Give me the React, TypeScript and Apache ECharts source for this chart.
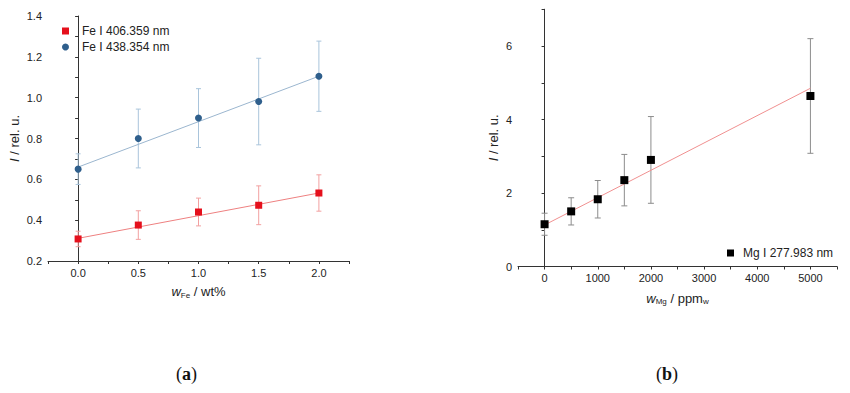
import React, { useEffect, useRef } from "react";
import * as echarts from "echarts";

// ---- data ----
const xFe = [0, 0.5, 1.0, 1.5, 2.0];
const fe406 = [0.308, 0.376, 0.44, 0.473, 0.533];
const fe406Err = [0.038, 0.07, 0.068, 0.095, 0.089];
const fe438 = [0.65, 0.8, 0.9, 0.981, 1.105];
const fe438Err = [0.075, 0.144, 0.144, 0.212, 0.172];
const fe406Fit = [[0, 0.311], [2.0, 0.533]];
const fe438Fit = [[0, 0.66], [2.0, 1.105]];

const xMg = [0, 500, 1000, 1500, 2000, 5000];
const mg = [1.15, 1.5, 1.83, 2.35, 2.9, 4.64];
const mgErr = [0.3, 0.37, 0.51, 0.7, 1.18, 1.56];
const mgFit = [[0, 1.13], [5000, 4.85]];

const feXTicks = [0, 0.5, 1.0, 1.5, 2.0];
const feYTicks = [0.2, 0.4, 0.6, 0.8, 1.0, 1.2, 1.4];
const mgXTicks = [0, 1000, 2000, 3000, 4000, 5000];
const mgYTicks = [0, 2, 4, 6];

const FONT = "Liberation Sans, Arial, sans-serif";
const SERIF = "Liberation Serif, DejaVu Serif, serif";

function errData(xs: number[], ys: number[], es: number[]) {
  return xs.map((x, i) => [x, ys[i] - es[i], ys[i] + es[i]]);
}

function errSeries(name: string, data: number[][], color: string, idx: number, cap: number) {
  return {
    type: "custom",
    name,
    xAxisIndex: idx,
    yAxisIndex: idx,
    z: 1,
    silent: true,
    encode: { x: 0, y: [1, 2] },
    renderItem: (params: any, api: any) => {
      const x = api.value(0);
      const lo = api.coord([x, api.value(1)]);
      const hi = api.coord([x, api.value(2)]);
      const st = { stroke: color, lineWidth: 1 };
      return {
        type: "group",
        children: [
          { type: "line", shape: { x1: lo[0], y1: lo[1], x2: hi[0], y2: hi[1] }, style: st },
          { type: "line", shape: { x1: lo[0] - cap, y1: lo[1], x2: lo[0] + cap, y2: lo[1] }, style: st },
          { type: "line", shape: { x1: hi[0] - cap, y1: hi[1], x2: hi[0] + cap, y2: hi[1] }, style: st },
        ],
      };
    },
    data,
  };
}

const near = (v: number, arr: number[]) => arr.some((t) => Math.abs(t - v) < 1e-6);

export default function App() {
  const ref = useRef<HTMLDivElement>(null);
  useEffect(() => {
    document.body.style.margin = "0";
    const chart = echarts.init(ref.current!, null, { renderer: "svg" });
    const axisLine = { lineStyle: { color: "#333", width: 1 } };
    const axisLabelBase = { color: "#222", fontSize: 11, fontFamily: FONT, margin: 6 };
    const tick = { show: true, length: 3, lineStyle: { color: "#333" } };
    const richName = {
      i: { fontStyle: "italic", fontSize: 13, fontFamily: FONT, color: "#222" },
      n: { fontSize: 13, fontFamily: FONT, color: "#222" },
      sub: { fontSize: 8, fontFamily: FONT, color: "#222", padding: [7, 0, 0, 0] },
    };
    const nameStyle = { fontSize: 13, fontFamily: FONT, color: "#222", rich: richName };
    chart.setOption({
      animation: false,
      backgroundColor: "#fff",
      grid: [
        { left: 48, top: 16, width: 301, height: 245 },
        { left: 518, top: 9.25, width: 319, height: 257.25 },
      ],
      xAxis: [
        {
          gridIndex: 0, type: "value", min: -0.25, max: 2.25, interval: 0.25,
          axisLine, axisTick: tick, splitLine: { show: false },
          axisLabel: { ...axisLabelBase, formatter: (v: number) => (near(v, feXTicks) ? v.toFixed(1) : "") },
          name: "{i|w}{sub|Fe}{n| / wt%}", nameLocation: "middle", nameGap: 23,
          nameTextStyle: nameStyle,
        },
        {
          gridIndex: 1, type: "value", min: -500, max: 5500, interval: 500,
          axisLine, axisTick: tick, splitLine: { show: false },
          axisLabel: { ...axisLabelBase, formatter: (v: number) => (near(v, mgXTicks) ? String(v) : "") },
          name: "{i|w}{sub|Mg}{n| / ppm}{sub|w}", nameLocation: "middle", nameGap: 24,
          nameTextStyle: nameStyle,
        },
      ],
      yAxis: [
        {
          gridIndex: 0, type: "value", min: 0.2, max: 1.4, interval: 0.1,
          axisLine: { show: true, ...axisLine }, axisTick: tick, splitLine: { show: false },
          axisLabel: { ...axisLabelBase, formatter: (v: number) => (near(v, feYTicks) ? v.toFixed(1) : "") },
          name: "{i|I}{n| / rel. u.}", nameLocation: "middle", nameGap: 27,
          nameTextStyle: nameStyle,
        },
        {
          gridIndex: 1, type: "value", min: 0, max: 7, interval: 1,
          axisLine: { show: true, ...axisLine }, axisTick: tick, splitLine: { show: false },
          axisLabel: { ...axisLabelBase, formatter: (v: number) => (near(v, mgYTicks) ? String(v) : "") },
          name: "{i|I}{n| / rel. u.}", nameLocation: "middle", nameGap: 18,
          nameTextStyle: nameStyle,
        },
      ],
      legend: [
        {
          left: 62, top: 25, orient: "vertical", padding: 0, itemGap: 4,
          itemWidth: 7, itemHeight: 7,
          itemStyle: { opacity: 1 },
          textStyle: { fontSize: 12, fontFamily: FONT, color: "#222", padding: [0, 0, 0, 8] },
          data: [
            { name: "Fe I 406.359 nm", icon: "rect" },
            { name: "Fe I 438.354 nm", icon: "circle" },
          ],
        },
        {
          left: 727, top: 247, orient: "vertical", padding: 0,
          itemWidth: 7, itemHeight: 7,
          itemStyle: { opacity: 1 },
          textStyle: { fontSize: 12, fontFamily: FONT, color: "#222", padding: [0, 0, 0, 4] },
          data: [{ name: "Mg I 277.983 nm", icon: "rect" }],
        },
      ],
      series: [
        errSeries("err406", errData(xFe, fe406, fe406Err), "#f2a0a0", 0, 2.5),
        errSeries("err438", errData(xFe, fe438, fe438Err), "#a9c4db", 0, 2.5),
        errSeries("errMg", errData(xMg, mg, mgErr), "#8c8c8c", 1, 3),
        {
          type: "line", name: "fit406", xAxisIndex: 0, yAxisIndex: 0, data: fe406Fit,
          symbol: "none", lineStyle: { color: "#ee8080", width: 1 }, z: 2, silent: true,
        },
        {
          type: "line", name: "fit438", xAxisIndex: 0, yAxisIndex: 0, data: fe438Fit,
          symbol: "none", lineStyle: { color: "#9bb6cf", width: 1 }, z: 2, silent: true,
        },
        {
          type: "line", name: "fitMg", xAxisIndex: 1, yAxisIndex: 1, data: mgFit,
          symbol: "none", lineStyle: { color: "#f09090", width: 1 }, z: 2, silent: true,
        },
        {
          type: "scatter", name: "Fe I 406.359 nm", xAxisIndex: 0, yAxisIndex: 0,
          data: xFe.map((x, i) => [x, fe406[i]]), symbol: "rect", symbolSize: 7,
          itemStyle: { color: "#e5101c", opacity: 1 }, z: 3,
        },
        {
          type: "scatter", name: "Fe I 438.354 nm", xAxisIndex: 0, yAxisIndex: 0,
          data: xFe.map((x, i) => [x, fe438[i]]), symbol: "circle", symbolSize: 7,
          itemStyle: { color: "#2f5f8c", opacity: 1 }, z: 3,
        },
        {
          type: "scatter", name: "Mg I 277.983 nm", xAxisIndex: 1, yAxisIndex: 1,
          data: xMg.map((x, i) => [x, mg[i]]), symbol: "rect", symbolSize: 8,
          itemStyle: { color: "#000", opacity: 1 }, z: 3,
        },
      ],
      graphic: [
        {
          type: "text", left: 176, top: 365,
          style: {
            text: "({b|a})", fontFamily: SERIF, fontSize: 18, fill: "#111",
            rich: { b: { fontWeight: "bold", fontFamily: SERIF, fontSize: 18, fill: "#111" } },
          },
        },
        {
          type: "text", left: 656, top: 365,
          style: {
            text: "({b|b})", fontFamily: SERIF, fontSize: 18, fill: "#111",
            rich: { b: { fontWeight: "bold", fontFamily: SERIF, fontSize: 18, fill: "#111" } },
          },
        },
      ],
    });
    return () => chart.dispose();
  }, []);
  return <div ref={ref} style={{ width: 850, height: 393 }} />;
}
